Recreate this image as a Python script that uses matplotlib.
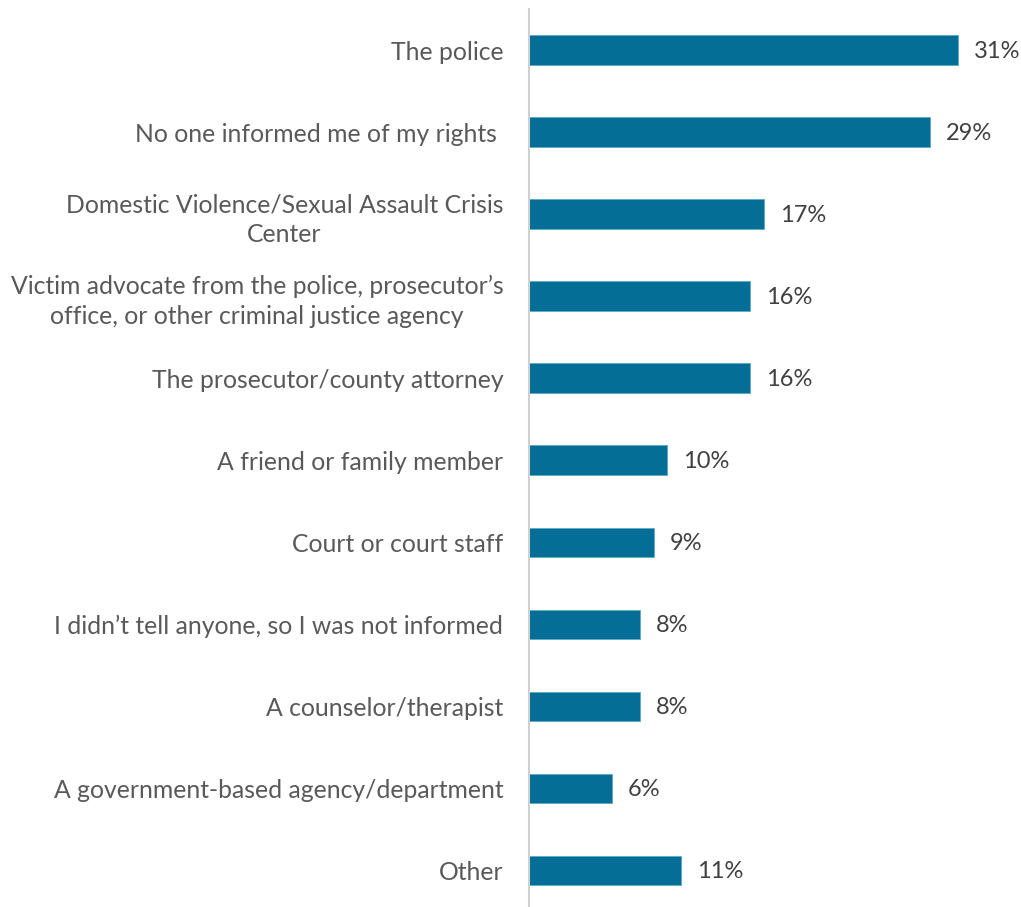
import matplotlib
matplotlib.use("Agg")
import matplotlib.pyplot as plt

categories = [
    "The police",
    "No one informed me of my rights ",
    "Domestic Violence/Sexual Assault Crisis\nCenter",
    "Victim advocate from the police, prosecutor\u2019s\noffice, or other criminal justice agency",
    "The prosecutor/county attorney",
    "A friend or family member",
    "Court or court staff",
    "I didn\u2019t tell anyone, so I was not informed",
    "A counselor/therapist",
    "A government-based agency/department",
    "Other",
]
values = [31, 29, 17, 16, 16, 10, 9, 8, 8, 6, 11]

BAR_COLOR = "#046E96"
TICK_COLOR = "#595959"
VALUE_COLOR = "#404040"

plt.rcParams["font.family"] = ["Lato", "DejaVu Sans"]

W, H = 1021, 907
fig = plt.figure(figsize=(W / 100, H / 100), dpi=100)
ax_left, ax_top, ax_bottom = 529, 9, 907
xmax = 35
px_per_unit = 13.84
ax_right = ax_left + xmax * px_per_unit
ax = fig.add_axes([ax_left / W, 1 - ax_bottom / H,
                   (ax_right - ax_left) / W, (ax_bottom - ax_top) / H])

y = list(range(len(categories)))
ax.barh(y, values, height=0.355, color=BAR_COLOR, edgecolor="#5aa9c8", linewidth=0.6)
ax.set_xlim(0, xmax)
ax.set_ylim(10.45, -0.5)
ax.set_yticks(y)
ax.set_yticklabels(categories, fontsize=17.8, color=TICK_COLOR, multialignment="center",
                   linespacing=1.38)
ax.tick_params(axis="y", length=0, pad=18.5)
ax.set_xticks([])
for s in ["top", "right", "bottom"]:
    ax.spines[s].set_visible(False)
ax.spines["left"].set_color("#d0d0d0")
ax.spines["left"].set_linewidth(1.5)

for yi, v in zip(y, values):
    ax.annotate(f"{v}%", (v, yi), xytext=(16, -1), textcoords="offset pixels",
                va="center", ha="left", fontsize=17, color=VALUE_COLOR)

fig.savefig("out.png", dpi=100)
